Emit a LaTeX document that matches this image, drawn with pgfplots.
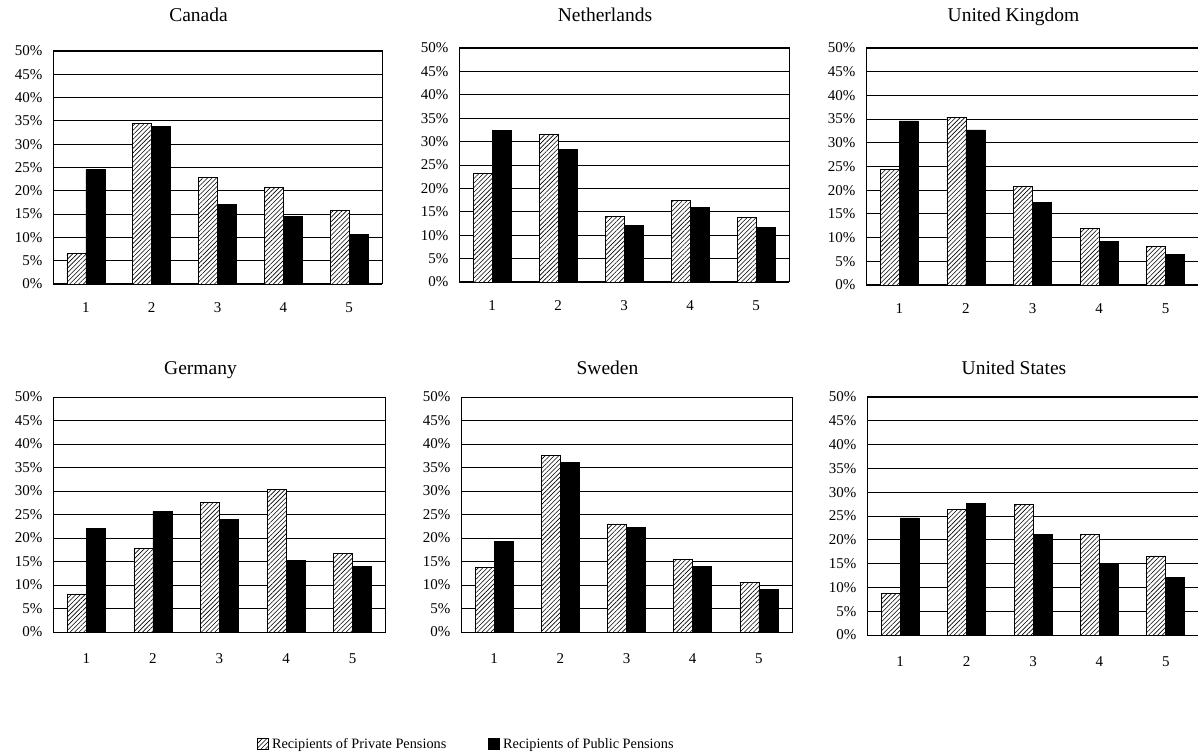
\documentclass[border=0pt]{standalone}
\usepackage{fontspec}
\setmainfont{Liberation Serif}
\usepackage{pgfplots}
\pgfplotsset{compat=1.18}
\usetikzlibrary{patterns.meta}
\pgfplotsset{
 panel/.style={
  scale only axis, anchor=south west,
  ybar=0pt, bar width=19pt,
  xmin=0.5, xmax=5.5, ymin=0, ymax=50,
  xtick={1,2,3,4,5}, ytick={0,5,...,50},
  yticklabel={\pgfmathprintnumber{\tick}\%},
  /pgf/number format/assume math mode=true,
  major tick length=0pt,
  ymajorgrids, grid style={black, line width=0.8pt},
  axis line style={black, line width=1pt},
  tick label style={font=\fontsize{15}{17}\selectfont},
  yticklabel style={xshift=-7pt},
  title style={font=\fontsize{19.5}{22}\selectfont, anchor=base, at={(0.5,1)}, xshift=-19pt},
 },
 priv/.style={draw=black, line width=0.8pt, fill=white, postaction={pattern={Lines[angle=45,distance=3.2pt,line width=0.6pt]}},
   legend image code/.code={\draw[##1] (0pt,-5.5pt) rectangle (11pt,5.5pt); \path (12pt,0pt);}},
 publ/.style={draw=black, line width=0.8pt, fill=black,
   legend image code/.code={\draw[##1] (0pt,-5.5pt) rectangle (11pt,5.5pt); \path (12pt,0pt);}},
}
\begin{document}
\begin{tikzpicture}
\path[use as bounding box] (0,0) rectangle (1198pt,752pt);
% Canada
\begin{axis}[panel, at={(53pt,468pt)}, width=329pt, height=233pt,
  title={Canada}, title style={yshift=23pt}, xticklabel style={anchor=base, yshift=-29pt}]
\addplot[priv] coordinates {(1,6.5) (2,34.5) (3,22.8) (4,20.8) (5,15.7)};
\addplot[publ] coordinates {(1,24.5) (2,33.9) (3,17.0) (4,14.5) (5,10.7)};
\end{axis}
% Netherlands
\begin{axis}[panel, at={(459pt,470pt)}, width=330pt, height=234pt,
  title={Netherlands}, title style={yshift=20pt}, xticklabel style={anchor=base, yshift=-29pt}]
\addplot[priv] coordinates {(1,23.2) (2,31.5) (3,14.0) (4,17.5) (5,13.8)};
\addplot[publ] coordinates {(1,32.4) (2,28.3) (3,12.1) (4,16.0) (5,11.7)};
\end{axis}
% United Kingdom
\begin{axis}[panel, at={(866pt,467pt)}, width=333pt, height=237pt,
  title={United Kingdom}, title style={yshift=20pt}, xticklabel style={anchor=base, yshift=-29pt}]
\addplot[priv] coordinates {(1,24.3) (2,35.4) (3,20.8) (4,12.0) (5,8.1)};
\addplot[publ] coordinates {(1,34.6) (2,32.7) (3,17.5) (4,9.1) (5,6.5)};
\end{axis}
% Germany
\begin{axis}[panel, at={(53pt,120pt)}, width=333pt, height=235pt,
  title={Germany}, title style={yshift=17pt}, xticklabel style={anchor=base, yshift=-31pt}]
\addplot[priv] coordinates {(1,8.1) (2,17.8) (3,27.5) (4,30.3) (5,16.8)};
\addplot[publ] coordinates {(1,22.0) (2,25.6) (3,24.0) (4,15.2) (5,14.0)};
\end{axis}
% Sweden
\begin{axis}[panel, at={(461pt,120pt)}, width=331pt, height=235pt,
  title={Sweden}, title style={yshift=17pt}, xticklabel style={anchor=base, yshift=-31pt},
  legend style={at={(-0.6163,-0.4766)}, anchor=west, draw=none, fill=none, inner sep=0pt,
    legend columns=2, font=\fontsize{14.3}{17}\selectfont,
    /tikz/every even column/.append style={column sep=40pt}},
  legend cell align=left]
\addplot[priv] coordinates {(1,13.8) (2,37.5) (3,23.0) (4,15.5) (5,10.6)};
\addplot[publ] coordinates {(1,19.3) (2,36.1) (3,22.3) (4,14.0) (5,9.0)};
\addlegendentry{Recipients of Private Pensions}
\addlegendentry{Recipients of Public Pensions}
\end{axis}
% United States
\begin{axis}[panel, at={(867pt,117pt)}, width=332pt, height=238pt,
  title={United States}, title style={yshift=16pt}, xticklabel style={anchor=base, yshift=-31pt}]
\addplot[priv] coordinates {(1,8.8) (2,26.4) (3,27.4) (4,21.1) (5,16.6)};
\addplot[publ] coordinates {(1,24.6) (2,27.6) (3,21.2) (4,15.0) (5,12.0)};
\end{axis}
\end{tikzpicture}
\end{document}
